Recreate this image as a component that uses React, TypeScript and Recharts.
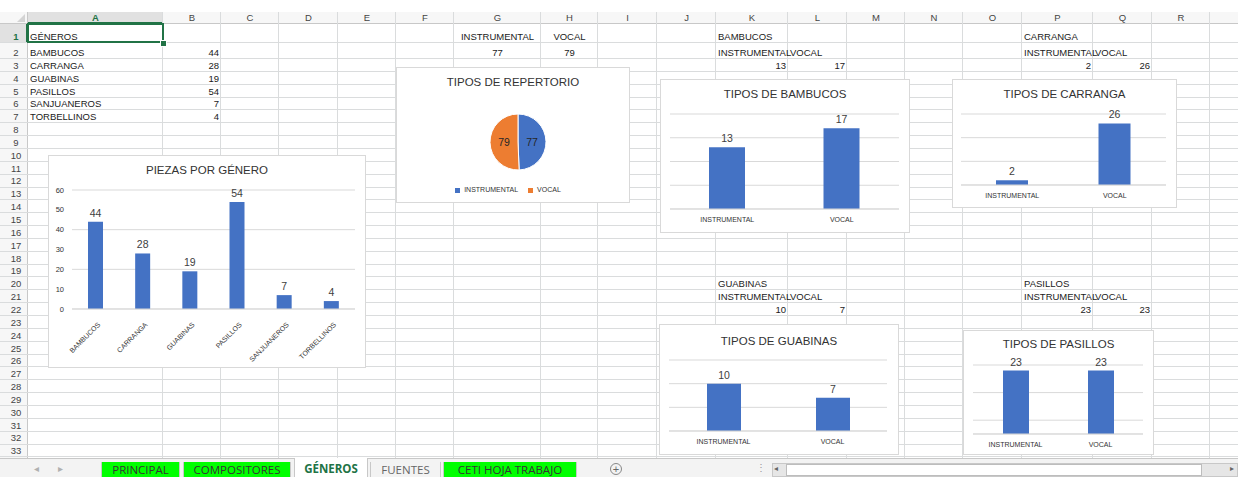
import React from 'react';
import { Bar, BarChart, CartesianGrid, LabelList, Legend, Pie, PieChart, Cell, XAxis, YAxis } from 'recharts';

const GENRES = ['BAMBUCOS', 'CARRANGA', 'GUABINAS', 'PASILLOS', 'SANJUANEROS', 'TORBELLINOS'];
const PIECES = [44, 28, 19, 54, 7, 4];
const PIECE_TICKS = [0, 10, 20, 30, 40, 50, 60];

const TYPES = ['INSTRUMENTAL', 'VOCAL'];
const REPERTOIRE = [77, 79];
const BAMBUCOS = [13, 17];
const CARRANGA = [2, 26];
const GUABINAS = [10, 7];
const PASILLOS = [23, 23];

const SHEET_TABS = ['PRINCIPAL', 'COMPOSITORES', 'GÉNEROS', 'FUENTES', 'CETI HOJA TRABAJO'];

const BLUE = '#4472C4';
const ORANGE = '#ED7D31';
const GRID = '#d9d9d9';
const LABEL = '#404040';
const FONT = '"Liberation Sans", Arial, sans-serif';

// sheet layout
const COL_NAMES = ['', 'A', 'B', 'C', 'D', 'E', 'F', 'G', 'H', 'I', 'J', 'K', 'L', 'M', 'N', 'O', 'P', 'Q', 'R', ''];
const COL_W = [28, 135, 58, 58, 59, 58, 58, 87, 57, 59, 59, 72, 59, 58, 58, 59, 71, 59, 58, 28];
const COL_X = COL_W.reduce<number[]>((acc, w, i) => [...acc, acc[i] + w], [0]);

const rowTop = (r: number) => (r <= 1 ? 24 : r === 2 ? 42.5 : 59 + (r - 3) * 12.85);
const colIdx = (c: string) => COL_NAMES.indexOf(c);

function SheetCell({ col, row, align = 'left', children }: { col: string; row: number; align?: 'left' | 'right' | 'center'; children: React.ReactNode }) {
  const i = colIdx(col);
  return (
    <div
      style={{
        position: 'absolute', left: COL_X[i], top: rowTop(row), width: COL_W[i], height: rowTop(row + 1) - rowTop(row),
        display: 'flex', alignItems: 'flex-end', boxSizing: 'border-box', padding: '0 2px 1px 2px',
        justifyContent: align === 'left' ? 'flex-start' : align === 'right' ? 'flex-end' : 'center',
        fontSize: 9.5, lineHeight: '11px', whiteSpace: 'nowrap', color: '#1a1a1a'
      }}
    >
      <span>{children}</span>
    </div>
  );
}

function Grid() {
  const rows = Array.from({ length: 33 }, (_, k) => k + 1);
  return (
    <>
      <div style={{ position: 'absolute', left: 0, top: 12, width: 1238, height: 12, background: '#f7f7f7', borderBottom: '1px solid #c8c8c8', boxSizing: 'border-box' }} />
      <div style={{ position: 'absolute', left: 0, top: 24, width: 28, height: 434, background: '#f7f7f7', borderRight: '1px solid #c8c8c8', boxSizing: 'border-box' }} />
      <div style={{ position: 'absolute', left: 28, top: 12, width: 135, height: 12, background: '#e1e1e1', borderBottom: '2px solid #217346', boxSizing: 'border-box' }} />
      <div style={{ position: 'absolute', left: 0, top: 24, width: 28, height: 18.5, background: '#e1e1e1', borderRight: '2px solid #217346', boxSizing: 'border-box' }} />
      {COL_X.slice(1, -1).map((x, i) => (
        <div key={'v' + i} style={{ position: 'absolute', left: x - 1, top: 12, width: 1, height: 446, background: i === 0 ? '#c8c8c8' : '#dadcdd' }} />
      ))}
      {rows.map((r) => (
        <div key={'h' + r} style={{ position: 'absolute', left: 0, top: rowTop(r + 1) - 1, width: 1238, height: 1, background: '#dadcdd' }} />
      ))}
      {COL_NAMES.map((c, i) => (
        <div key={'c' + i} style={{ position: 'absolute', left: COL_X[i], top: 12, width: COL_W[i], height: 12, fontSize: 9.5, lineHeight: '12px', textAlign: 'center', color: c === 'A' ? '#217346' : '#444', fontWeight: c === 'A' ? 700 : 400 }}>{c}</div>
      ))}
      {rows.map((r) => (
        <div key={'r' + r} style={{ position: 'absolute', left: 4, top: rowTop(r), width: 24, height: rowTop(r + 1) - rowTop(r), display: 'flex', alignItems: 'flex-end', justifyContent: 'center', paddingBottom: 1, boxSizing: 'border-box', fontSize: 9.5, lineHeight: '11px', color: r === 1 ? '#217346' : '#444', fontWeight: r === 1 ? 700 : 400 }}>{r}</div>
      ))}
      <svg style={{ position: 'absolute', left: 16, top: 14 }} width={10} height={9}><polygon points="9,0 9,8 1,8" fill="#d4d4d4" /></svg>
      <div style={{ position: 'absolute', left: 27, top: 23, width: 137, height: 20, border: '2px solid #217346', boxSizing: 'border-box' }} />
      <div style={{ position: 'absolute', left: 160, top: 40, width: 5, height: 5, background: '#217346', border: '1px solid #fff' }} />
    </>
  );
}

function Box({ x, y, w, h, title, titleTop = 9, children }: { x: number; y: number; w: number; h: number; title: string; titleTop?: number; children: React.ReactNode }) {
  return (
    <div style={{ position: 'absolute', left: x, top: y, width: w, height: h, background: '#fff', border: '1px solid #d9d9d9', boxSizing: 'border-box' }}>
      <div style={{ position: 'absolute', left: 0, top: titleTop - 1, width: w - 2, textAlign: 'center', fontSize: 11.5, lineHeight: '13px', color: '#333', whiteSpace: 'nowrap' }}>{title}</div>
      <div style={{ position: 'absolute', left: -1, top: -1 }}>{children}</div>
    </div>
  );
}

const toRows = (vals: number[]) => TYPES.map((name, i) => ({ name, value: vals[i] }));

function TypeChart({ x, y, w, h, title, values, max, step, barSize, margin, axisH, titleTop }: {
  x: number; y: number; w: number; h: number; title: string; values: number[]; max: number; step: number; barSize: number;
  margin: { top: number; right: number; left: number }; axisH: number; titleTop?: number;
}) {
  const ticks = Array.from({ length: max / step + 1 }, (_, i) => i * step);
  return (
    <Box x={x} y={y} w={w} h={h} title={title} titleTop={titleTop}>
      <BarChart width={w} height={h} data={toRows(values)} margin={{ ...margin, bottom: 0 }}>
        <CartesianGrid vertical={false} stroke={GRID} />
        <XAxis dataKey="name" height={axisH} interval={0} tickLine={false} axisLine={{ stroke: GRID }} tick={{ fontSize: 7, fill: '#333' }} />
        <YAxis hide domain={[0, max]} ticks={ticks} />
        <Bar dataKey="value" fill={BLUE} barSize={barSize} isAnimationActive={false}>
          <LabelList dataKey="value" position="top" offset={5} style={{ fontSize: 10.5, fill: LABEL }} />
        </Bar>
      </BarChart>
    </Box>
  );
}

function RotTick({ x, y, payload }: any) {
  return (
    <g transform={`translate(${x + 3},${y + 6})`}>
      <text textAnchor="end" transform="rotate(-45)" fontSize={7} fill="#333" dy={3}>{payload.value}</text>
    </g>
  );
}

const RADIAN = Math.PI / 180;
function pieLabel({ cx, cy, midAngle, outerRadius, value }: any) {
  const r = outerRadius * 0.5;
  const lx = cx + r * Math.cos(-midAngle * RADIAN);
  const ly = cy + r * Math.sin(-midAngle * RADIAN);
  return <text x={lx} y={ly} textAnchor="middle" dominantBaseline="central" fontSize={10.5} fill="#262626">{value}</text>;
}

function Tabs() {
  const tabX = [101, 183, 294, 370, 443];
  const tabW = [79, 108, 74, 71, 134];
  return (
    <div style={{ position: 'absolute', left: 0, top: 457.5, width: 1238, height: 20, background: '#f3f3f3', borderTop: '1px solid #c8c8c8', boxSizing: 'border-box' }}>
      <div style={{ position: 'absolute', left: 34, top: 4, fontSize: 10, color: '#b0b0b0' }}>◂</div>
      <div style={{ position: 'absolute', left: 58, top: 4, fontSize: 10, color: '#b0b0b0' }}>▸</div>
      {SHEET_TABS.map((t, i) => {
        const active = t === 'GÉNEROS';
        const plain = t === 'FUENTES';
        return (
          <div key={t} style={{
            position: 'absolute', left: tabX[i], top: active ? -1 : 3, width: tabW[i], height: active ? 20 : 16,
            background: active ? '#fff' : plain ? '#f3f3f3' : '#00ff00', borderLeft: '1px solid #c8c8c8', borderRight: '1px solid #c8c8c8',
            boxSizing: 'border-box', textAlign: 'center', fontSize: 11.5, lineHeight: active ? '22px' : '15px',
            color: active ? '#217346' : plain ? '#666' : '#333', fontWeight: active ? 700 : 400, fontFamily: '"Open Sans", sans-serif'
          }}>{t}</div>
        );
      })}
      <div style={{ position: 'absolute', left: 610, top: 4, width: 12, height: 12, borderRadius: 7, border: '1px solid #888', boxSizing: 'border-box', fontSize: 11, lineHeight: '10px', textAlign: 'center', color: '#666' }}>+</div>
      <div style={{ position: 'absolute', left: 756, top: 3, fontSize: 10, color: '#999' }}>⋮</div>
      <div style={{ position: 'absolute', left: 772, top: 4, width: 466, height: 14, background: '#e6e6e6', border: '1px solid #c8c8c8', boxSizing: 'border-box' }}>
        <div style={{ position: 'absolute', left: 1, top: 0, fontSize: 8, color: '#666' }}>◂</div>
        <div style={{ position: 'absolute', left: 13, top: 0, width: 416, height: 12, background: '#fff', border: '1px solid #bdbdbd', boxSizing: 'border-box' }} />
        <div style={{ position: 'absolute', right: 3, top: 0, fontSize: 8, color: '#666' }}>▸</div>
      </div>
    </div>
  );
}

export default function App() {
  const genreRows = GENRES.map((name, i) => ({ name, value: PIECES[i] }));
  const pieRows = toRows(REPERTOIRE);
  return (
    <div style={{ position: 'absolute', left: 0, top: 0, width: 1238, height: 477, overflow: 'hidden', background: '#fff', fontFamily: FONT }}>
      <Grid />

      <SheetCell col="A" row={1}>GÉNEROS</SheetCell>
      {GENRES.map((g, i) => (
        <React.Fragment key={g}>
          <SheetCell col="A" row={i + 2}>{g}</SheetCell>
          <SheetCell col="B" row={i + 2} align="right">{PIECES[i]}</SheetCell>
        </React.Fragment>
      ))}
      <SheetCell col="G" row={1} align="center">{TYPES[0]}</SheetCell>
      <SheetCell col="H" row={1} align="center">{TYPES[1]}</SheetCell>
      <SheetCell col="G" row={2} align="center">{REPERTOIRE[0]}</SheetCell>
      <SheetCell col="H" row={2} align="center">{REPERTOIRE[1]}</SheetCell>

      {[
        { name: GENRES[0], col: ['K', 'L'], row: 1, vals: BAMBUCOS },
        { name: GENRES[1], col: ['P', 'Q'], row: 1, vals: CARRANGA },
        { name: GENRES[2], col: ['K', 'L'], row: 20, vals: GUABINAS },
        { name: GENRES[3], col: ['P', 'Q'], row: 20, vals: PASILLOS }
      ].map((b) => (
        <React.Fragment key={b.name}>
          <SheetCell col={b.col[0]} row={b.row}>{b.name}</SheetCell>
          <SheetCell col={b.col[0]} row={b.row + 1}>{TYPES[0]}</SheetCell>
          <SheetCell col={b.col[1]} row={b.row + 1}>{TYPES[1]}</SheetCell>
          <SheetCell col={b.col[0]} row={b.row + 2} align="right">{b.vals[0]}</SheetCell>
          <SheetCell col={b.col[1]} row={b.row + 2} align="right">{b.vals[1]}</SheetCell>
        </React.Fragment>
      ))}

      <Box x={48} y={155} w={318} h={213} title="PIEZAS POR GÉNERO">
        <BarChart width={318} height={213} data={genreRows} margin={{ top: 35, right: 11, left: 2, bottom: 0 }}>
          <CartesianGrid vertical={false} stroke={GRID} />
          <XAxis dataKey="name" height={59} interval={0} tickLine={false} axisLine={{ stroke: GRID }} tick={<RotTick />} />
          <YAxis width={22} domain={[0, 60]} ticks={PIECE_TICKS} axisLine={false} tickLine={false} tick={{ fontSize: 7.5, fill: '#333' }} />
          <Bar dataKey="value" fill={BLUE} barSize={15} isAnimationActive={false}>
            <LabelList dataKey="value" position="top" offset={5} style={{ fontSize: 10.5, fill: LABEL }} />
          </Bar>
        </BarChart>
      </Box>

      <Box x={396} y={67} w={234} h={136} title="TIPOS DE REPERTORIO">
        <PieChart width={234} height={136}>
          <Pie data={pieRows} dataKey="value" nameKey="name" cx={117} cy={70} outerRadius={28} startAngle={90} endAngle={-270}
            stroke="#fff" strokeWidth={1} labelLine={false} label={pieLabel} isAnimationActive={false}>
            <Cell fill={BLUE} />
            <Cell fill={ORANGE} />
          </Pie>
          <Legend verticalAlign="bottom" align="center" iconType="square" iconSize={5}
            wrapperStyle={{ bottom: 9, fontSize: 7, lineHeight: '8px' }}
            formatter={(v: string) => <span style={{ color: '#333', fontSize: 7 }}>{v}</span>} />
        </PieChart>
      </Box>

      <TypeChart x={660} y={79} w={250} h={154} title="TIPOS DE BAMBUCOS" values={BAMBUCOS} max={20} step={5} barSize={36}
        margin={{ top: 35, right: 11, left: 10 }} axisH={24} />
      <TypeChart x={952} y={79} w={225} h={129} title="TIPOS DE CARRANGA" values={CARRANGA} max={30} step={10} barSize={32}
        margin={{ top: 35, right: 11, left: 9 }} axisH={23} />
      <TypeChart x={659} y={324} w={240} h={131} title="TIPOS DE GUABINAS" values={GUABINAS} max={15} step={5} barSize={34}
        margin={{ top: 36, right: 12, left: 10 }} axisH={24} titleTop={11} />
      <TypeChart x={963} y={330} w={191} h={125} title="TIPOS DE PASILLOS" values={PASILLOS} max={25} step={5} barSize={26}
        margin={{ top: 35, right: 11, left: 10 }} axisH={21} titleTop={8} />

      <Tabs />
    </div>
  );
}
